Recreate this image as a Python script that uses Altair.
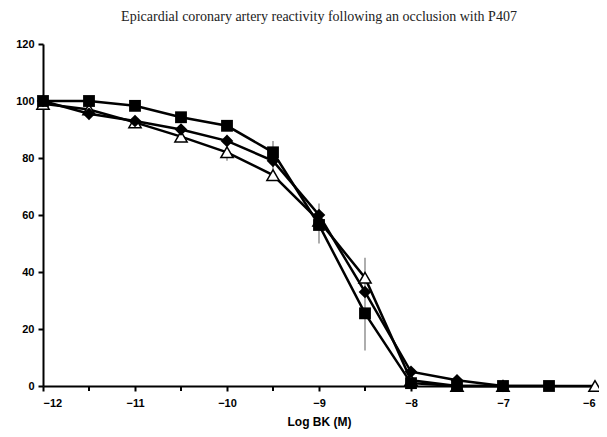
import altair as alt
import pandas as pd

log_bk = [-12, -11.5, -11, -10.5, -10, -9.5, -9, -8.5, -8, -7.5, -7, -6.5, -6]
squares = [100, 100, 98.3, 94.3, 91.3, 82, 56.5, 25.5, 1, 0, 0, 0, None]
diamonds = [100, 95.5, 93, 90, 86, 79, 60, 33, 5, 2, 0, None, None]
triangles = [99, 97, 92.5, 87.5, 82, 74, 58, 38, 2, 0, 0, None, 0]

err_x = [-10, -9.5, -9, -8.5]
err_lo = [79, 76, 50, 12.5]
err_hi = [82, 86, 64, 45]

rows = []
for name, vals in [("Square", squares), ("Diamond", diamonds), ("Triangle", triangles)]:
    for x, v in zip(log_bk, vals):
        if v is not None:
            rows.append({"x": x, "y": v, "series": name})
df = pd.DataFrame(rows)
err = pd.DataFrame({"x": err_x, "lo": err_lo, "hi": err_hi})

xscale = alt.Scale(domain=[-12, -6], nice=False, zero=False)
yscale = alt.Scale(domain=[0, 120], nice=False)

xaxis = alt.Axis(
    title="Log BK (M)", values=[-12, -11, -10, -9, -8, -7, -6],
    format="d", grid=False,
    labelFont="Liberation Sans", labelFontWeight="bold", labelFontSize=11,
    titleFont="Liberation Sans", titleFontWeight="bold", titleFontSize=12,
    titlePadding=8, labelPadding=6,
)
yaxis = alt.Axis(
    title=None, values=[0, 20, 40, 60, 80, 100, 120], grid=False,
    labelFont="Liberation Sans", labelFontWeight="bold", labelFontSize=11,
    labelPadding=4,
)

errbars = alt.Chart(err).mark_rule(color="#777777", strokeWidth=1.2).encode(
    x=alt.X("x:Q", scale=xscale, axis=xaxis),
    y=alt.Y("lo:Q", scale=yscale, axis=yaxis),
    y2="hi:Q",
)

# minor ticks on x every 0.5
minor = pd.DataFrame({"x": [-11.5, -10.5, -9.5, -8.5, -7.5, -6.5]})
minor_ticks = alt.Chart(minor).mark_rule(color="black", strokeWidth=2).encode(
    x=alt.X("x:Q", scale=xscale),
    y=alt.value(342),
    y2=alt.value(347),
)

base = alt.Chart(df)
lines = base.mark_line(color="black", strokeWidth=2.5).encode(
    x=alt.X("x:Q", scale=xscale),
    y=alt.Y("y:Q", scale=yscale),
    detail="series:N",
)

sq = base.transform_filter(alt.datum.series == "Square").mark_point(
    shape="square", filled=True, color="black", size=140, opacity=1
).encode(x=alt.X("x:Q", scale=xscale), y=alt.Y("y:Q", scale=yscale))

dm = base.transform_filter(alt.datum.series == "Diamond").mark_point(
    shape="diamond", filled=True, color="black", size=160, opacity=1
).encode(x=alt.X("x:Q", scale=xscale), y=alt.Y("y:Q", scale=yscale))

tr = base.transform_filter(alt.datum.series == "Triangle").mark_point(
    shape="triangle-up", filled=True, fill="white", stroke="black", strokeWidth=1.5,
    size=150, opacity=1
).encode(x=alt.X("x:Q", scale=xscale), y=alt.Y("y:Q", scale=yscale))

chart = alt.layer(errbars, minor_ticks, lines, tr, dm, sq).properties(
    width=552, height=342,
    title=alt.TitleParams(
        "Epicardial coronary artery reactivity following an occlusion with P407",
        font="Liberation Serif", fontSize=14, fontWeight="normal", color="#222222",
        offset=14, anchor="middle",
    ),
    autosize=alt.AutoSizeParams(type="none"),
    padding={"left": 35, "top": 36, "right": 4, "bottom": 43},
).configure_view(stroke=None).configure_axis(
    domainColor="black", domainWidth=2, tickColor="black", tickWidth=2, tickSize=5,
    labelColor="black", titleColor="black",
)

chart.save("out.html", embed_options={"renderer": "svg", "actions": False})
